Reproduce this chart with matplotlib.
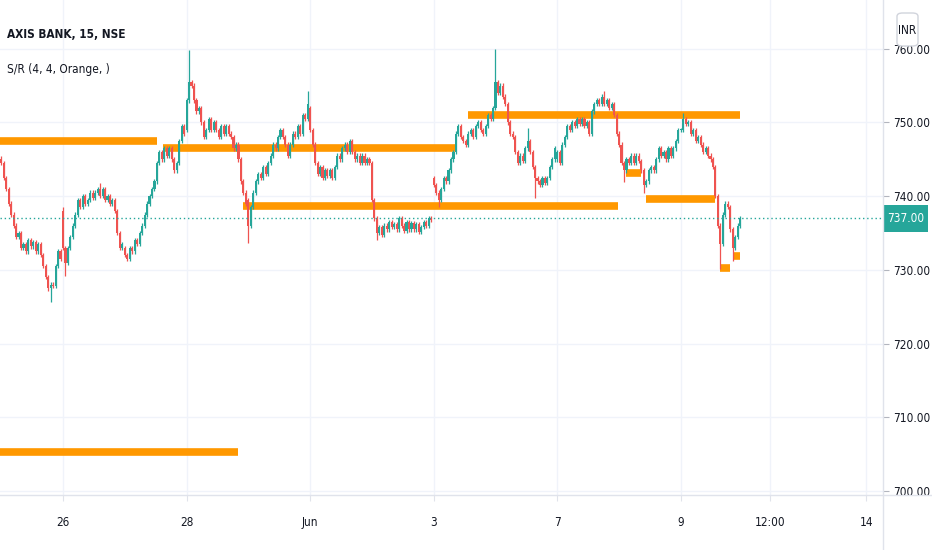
import matplotlib
matplotlib.use("Agg")
import matplotlib.pyplot as plt
from matplotlib.lines import Line2D
from matplotlib.patches import FancyBboxPatch, Rectangle
from matplotlib import transforms
from matplotlib import font_manager as fm
import numpy as np

# 15 min closes, 25 bars per session
may25 = [744.5, 742.5, 741.0, 739.0, 737.5, 736.0, 734.5, 735.0, 733.0, 733.5,
         732.5, 734.0, 733.2, 733.8, 732.5, 733.5, 732.0, 730.5, 729.0, 727.5,
         728.0, 727.8, 730.5, 732.5, 731.5]
may26 = [733.0, 731.0, 733.0, 734.5, 736.0, 737.5, 739.5, 738.5, 740.0, 739.0,
         739.5, 740.5, 739.8, 740.5, 741.0, 740.0, 741.0, 739.5, 740.0, 739.0,
         739.5, 738.0, 735.0, 733.0, 733.5]
may27 = [732.0, 731.5, 733.0, 732.5, 734.0, 733.5, 735.0, 736.0, 737.5, 739.0,
         740.0, 741.0, 742.0, 744.5, 746.0, 745.0, 746.5, 745.5, 746.5, 745.0,
         743.5, 744.5, 747.5, 749.5, 748.5]
may28 = [753.0, 755.5, 755.0, 753.0, 751.5, 752.0, 750.0, 748.0, 749.0, 750.5,
         749.0, 750.0, 749.0, 748.0, 749.5, 748.5, 749.5, 748.5, 748.0, 746.5,
         747.0, 745.0, 742.0, 740.5, 739.0]
may31 = [736.0, 738.5, 740.5, 742.0, 743.0, 742.5, 744.0, 743.0, 744.5, 745.5,
         747.0, 746.5, 748.0, 749.0, 748.0, 747.0, 745.5, 747.0, 748.5, 748.0,
         749.5, 748.5, 751.0, 750.5, 752.5]
jun1 = [749.0, 747.0, 744.5, 743.0, 744.0, 742.5, 743.5, 742.8, 743.5, 742.5,
        744.0, 745.5, 745.0, 746.5, 747.0, 746.0, 747.5, 746.0, 745.0, 745.5,
        744.5, 745.5, 744.5, 745.0, 744.5]
jun2 = [739.5, 737.0, 735.0, 735.8, 734.8, 736.0, 735.5, 736.5, 735.8, 736.2,
        735.5, 737.0, 736.0, 735.3, 736.5, 735.5, 736.3, 735.5, 736.2, 735.2,
        735.8, 736.5, 736.0, 737.0, 736.8]
jun3 = [741.5, 740.5, 739.5, 741.0, 742.5, 742.0, 743.5, 745.0, 746.0, 748.5,
        749.5, 748.0, 747.5, 747.0, 748.5, 749.0, 748.0, 749.5, 750.0, 749.0,
        748.5, 749.5, 751.0, 750.5, 752.0]
jun4 = [755.5, 754.0, 755.0, 753.5, 752.5, 750.0, 748.5, 748.0, 746.0, 744.5,
        745.5, 744.8, 746.5, 747.5, 746.0, 744.0, 742.5, 742.0, 741.5, 742.5,
        741.8, 742.5, 744.0, 745.0, 746.5]
jun7 = [746.0, 744.5, 747.0, 748.0, 749.5, 749.0, 750.0, 749.5, 750.5, 749.8,
        750.5, 749.5, 750.0, 748.5, 751.5, 752.5, 753.0, 752.5, 753.5, 752.5,
        753.0, 752.0, 752.5, 751.0, 748.5]
jun8 = [747.0, 744.5, 743.5, 745.0, 744.5, 745.5, 744.5, 745.5, 744.8, 743.5,
        741.5, 742.0, 743.5, 744.0, 743.5, 745.0, 746.5, 745.5, 746.0, 745.0,
        746.5, 745.5, 746.5, 747.5, 749.0]
jun9 = [749.0, 750.5, 749.8, 750.0, 748.5, 749.0, 747.5, 748.0, 747.0, 746.0,
        746.5, 745.5, 745.0, 744.0, 740.0, 736.0, 733.5, 737.5, 739.0, 738.5,
        735.5, 733.0, 734.5, 736.0, 737.0]

closes = may25 + may26 + may27 + may28 + may31 + jun1 + jun2 + jun3 + jun4 + jun7 + jun8 + jun9
day_opens = [745.0, 738.0, 733.0, 749.0, 739.5, 752.0, 744.5, 742.5, 752.0, 745.0, 748.5, 749.0]

# long wicks (bar index -> price)
spike_highs = {0: 745.2, 25: 738.3, 40: 741.5, 76: 759.5, 124: 754.0, 200: 759.7,
               213: 749.0, 244: 754.0, 276: 751.0}
spike_lows = {20: 726.0, 26: 729.5, 100: 734.0, 152: 734.3, 177: 738.8, 216: 740.0,
              252: 742.2, 260: 740.8, 291: 730.4, 296: 731.5}

# S/R levels (price, first bar, last bar)
sr_price = [747.5, 746.5, 738.7, 751.0, 743.2, 739.6, 730.25, 731.95, 705.3]
sr_from = [-0.5, 65.5, 98, 189, 253, 261, 291, 296, -0.5]
sr_to = [63, 184, 249.5, 299, 259, 289, 295, 299, 96]

last_price = 737.00
y_ticks = [700, 710, 720, 730, 740, 750, 760]
x_tick_bars = [25, 75, 125, 175, 225, 275, 311, 350]
x_tick_labels = ["26", "28", "Jun", "3", "7", "9", "12:00", "14"]

UP = "#26a69a"
DOWN = "#ef5350"
ORANGE = "#ff9800"
TXT = "#131722"
GRID = "#f0f3fa"
BORDER = "#e0e3eb"


# the scale labels in the screenshot are very narrow: look for a condensed face
def find_font(bold):
    want_w = 700 if bold else 400
    prefs = ["Liberation Sans Narrow", "DejaVu Sans Condensed", "DejaVu Sans",
             "Roboto Condensed", "Noto Sans", "Open Sans"]
    best = None
    for f in fm.fontManager.ttflist:
        nm = f.name.lower()
        narrow = ("narrow" in nm or "condensed" in nm or
                  str(f.stretch) in ("condensed", "semi-condensed", "extra-condensed")
                  or "condensed" in f.fname.lower())
        if not narrow or "italic" in f.fname.lower() or "oblique" in f.fname.lower():
            continue
        rank = prefs.index(f.name) if f.name in prefs else len(prefs)
        w = f.weight if isinstance(f.weight, int) else (700 if "bold" in str(f.weight) else 400)
        key = (rank, abs(w - want_w), "extra" in f.fname.lower())
        if best is None or key < best[0]:
            best = (key, f.fname)
    if best is None:
        return fm.FontProperties(family="Liberation Sans", weight="bold" if bold else "normal")
    return fm.FontProperties(fname=best[1])


fp = find_font(False)
fpb = find_font(True)

n = len(closes)
idx = np.arange(n)
opens = []
for i in range(n):
    if i % 25 == 0:
        opens.append(day_opens[i // 25])
    else:
        opens.append(closes[i - 1])
opens = np.array(opens)
closes = np.array(closes)
highs = np.maximum(opens, closes)
lows = np.minimum(opens, closes)
for k, v in spike_highs.items():
    highs[k] = max(highs[k], v)
for k, v in spike_lows.items():
    lows[k] = min(lows[k], v)
colors = [UP if c >= o else DOWN for o, c in zip(opens, closes)]

fig = plt.figure(figsize=(9.32, 5.5), dpi=100)
ax = fig.add_axes([0, 55 / 550, 883 / 932, 495 / 550])
ax.set_xlim(-0.5, 356.8)
ax.set_ylim(699.46, 766.62)

# grid
for y in y_ticks:
    ax.axhline(y, color=GRID, lw=1, zorder=0)
for b in x_tick_bars:
    ax.axvline(b, color=GRID, lw=1, zorder=0)

# support / resistance lines
ax.hlines(sr_price, sr_from, sr_to, colors=ORANGE, lw=5.5, zorder=2)

# candles
pad = 0.3
ax.vlines(idx, lows - pad, highs + pad, colors=colors, lw=0.9, zorder=3)
body = np.where(np.abs(closes - opens) < 0.12, 0.12, closes - opens)
ax.bar(idx, body, bottom=opens, width=0.85, color=colors, linewidth=0, zorder=4)

# last price line
ax.axhline(last_price, color=UP, lw=1, ls=(0, (1, 2)), zorder=5)

for s in ["top", "left", "right", "bottom"]:
    ax.spines[s].set_visible(False)

ax.yaxis.tick_right()
ax.set_yticks(y_ticks, [f"{v:.2f}" for v in y_ticks])
ax.set_xticks(x_tick_bars, x_tick_labels)
ax.tick_params(axis="y", length=4, color="#b2b5be", labelcolor=TXT, pad=3)
ax.tick_params(axis="x", length=4, color=BORDER, labelcolor=TXT, pad=11)
for lbl in ax.get_yticklabels() + ax.get_xticklabels():
    lbl.set_fontproperties(fp)
    lbl.set_fontsize(8.5)

# pane borders
fig.add_artist(Line2D([883 / 932, 883 / 932], [0, 1], color=BORDER, lw=1))
fig.add_artist(Line2D([0, 1], [55 / 550, 55 / 550], color=BORDER, lw=1))

# last price tag on the scale
tr = transforms.blended_transform_factory(fig.transFigure, ax.transData)
ax.add_patch(Rectangle((883 / 932, last_price - 1.8), 45 / 932, 3.6, transform=tr,
                       facecolor=UP, edgecolor="none", clip_on=False, zorder=6))
ax.text(906 / 932, last_price, f"{last_price:.2f}", transform=tr, color="white",
        fontproperties=fp, fontsize=8.5, ha="center", va="center", zorder=7, clip_on=False)

# currency badge
fig.add_artist(FancyBboxPatch((897 / 932, 1 - 46 / 550), 21 / 932, 33 / 550,
                              boxstyle="round,pad=0,rounding_size=0.006",
                              transform=fig.transFigure, facecolor="white",
                              edgecolor="#d1d4dc", lw=1, zorder=10))
fig.text(907.5 / 932, 1 - 31 / 550, "INR", color=TXT, fontproperties=fp, fontsize=8.5,
         ha="center", va="center", zorder=11)

# legend texts
fig.text(7 / 932, 1 - 35 / 550, "AXIS BANK, 15, NSE", color=TXT, fontproperties=fpb,
         fontsize=8.5, ha="left", va="center")
fig.text(7 / 932, 1 - 70 / 550, "S/R (4, 4, Orange, )", color=TXT, fontproperties=fp,
         fontsize=8.5, ha="left", va="center")

fig.savefig("out.png", dpi=100, facecolor="white")
